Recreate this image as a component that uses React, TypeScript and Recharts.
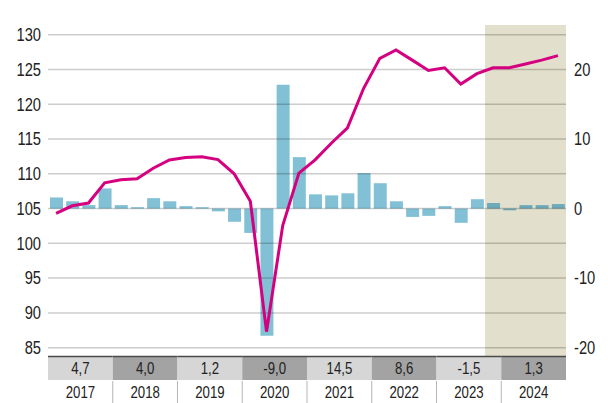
import React from 'react';
import { ComposedChart, Bar, Line, XAxis, YAxis, ReferenceArea, ReferenceLine, Cell } from 'recharts';

const quarters = [
  '2017 Q1', '2017 Q2', '2017 Q3', '2017 Q4',
  '2018 Q1', '2018 Q2', '2018 Q3', '2018 Q4',
  '2019 Q1', '2019 Q2', '2019 Q3', '2019 Q4',
  '2020 Q1', '2020 Q2', '2020 Q3', '2020 Q4',
  '2021 Q1', '2021 Q2', '2021 Q3', '2021 Q4',
  '2022 Q1', '2022 Q2', '2022 Q3', '2022 Q4',
  '2023 Q1', '2023 Q2', '2023 Q3', '2023 Q4',
  '2024 Q1', '2024 Q2', '2024 Q3', '2024 Q4',
];

// Index level (left axis)
const indexValues = [
  104.3, 105.4, 105.8, 108.7,
  109.15, 109.3, 110.8, 112.0,
  112.35, 112.45, 112.05, 110.0,
  106.05, 87.3, 102.55, 110.1,
  112.0, 114.4, 116.6, 122.3,
  126.6, 127.8, 126.35, 124.85,
  125.25, 122.9, 124.4, 125.25,
  125.25, 125.8, 126.35, 127.0,
];

// Quarter-on-quarter change in % (right axis)
const changeValues = [
  1.6, 1.05, 0.5, 2.9,
  0.5, 0.2, 1.5, 1.05,
  0.35, 0.2, -0.4, -1.9,
  -3.5, -18.3, 17.8, 7.4,
  2.05, 1.9, 2.2, 5.1,
  3.65, 1.05, -1.2, -1.05,
  0.35, -2.05, 1.35, 0.8,
  -0.25, 0.5, 0.5, 0.65,
];

const years = ['2017', '2018', '2019', '2020', '2021', '2022', '2023', '2024'];
const annualChange = [4.7, 4.0, 1.2, -9.0, 14.5, 8.6, -1.5, 1.3];

const leftTicks = [85, 90, 95, 100, 105, 110, 115, 120, 125, 130];
const rightTicks = [-20, -10, 0, 10, 20];
const forecastFrom = '2023 Q4';

const W = 608;
const H = 403;
const ML = 48;
const MR = 42;
const MT = 25;
const TABLE_H = 47;
const PLOT_W = W - ML - MR;
const BAND = PLOT_W / quarters.length;
const TABLE_TOP = H - TABLE_H;
const FONT = "'Liberation Sans', Arial, sans-serif";

const data = quarters.map((q, i) => ({ q, idx: indexValues[i], chg: changeValues[i] }));
const forecastStart = quarters.indexOf(forecastFrom);

const fmt = (v: number) => v.toFixed(1).replace('.', ',');

const NarrowText = ({ x, y, anchor, size, sx, children }: any) => (
  <g transform={`translate(${x},${y})`}>
    <text transform={`scale(${sx},1)`} textAnchor={anchor} dy="0.36em" fontFamily={FONT}
      fontSize={size} fill="#222">{children}</text>
  </g>
);

const LeftTick = (props: any) => (
  <NarrowText x={props.x} y={props.y} anchor="end" size={17.5} sx={0.84}>{props.payload.value}</NarrowText>
);
const RightTick = (props: any) => (
  <NarrowText x={props.x} y={props.y} anchor="start" size={17.5} sx={0.84}>{props.payload.value}</NarrowText>
);

const TableTick = (props: any) => {
  const { x, payload } = props;
  const i = quarters.indexOf(payload.value);
  if (i < 0 || i % 4 !== 0) return <g />;
  const yi = i / 4;
  const x0 = x - BAND / 2;
  const w = BAND * 4;
  const row1Top = TABLE_TOP;
  const row1H = 24;
  const row2Top = row1Top + row1H + 1;
  return (
    <g>
      <rect x={x0} y={row1Top} width={w} height={row1H} fill={yi % 2 === 0 ? '#d6d6d6' : '#a3a3a3'} />
      <line x1={x0} x2={x0 + w} y1={row1Top + 0.5} y2={row1Top + 0.5} stroke="#4a4a4a" strokeWidth={1.5} />
      {yi > 0 && (
        <line x1={x0} x2={x0} y1={row2Top} y2={H} stroke="#b5b5b5" strokeWidth={1} />
      )}
      <NarrowText x={x0 + w / 2} y={row1Top + row1H / 2 + 0.5} anchor="middle" size={16.5} sx={0.8}>
        {fmt(annualChange[yi])}
      </NarrowText>
      <NarrowText x={x0 + w / 2} y={row2Top + 11} anchor="middle" size={16.5} sx={0.8}>
        {years[yi]}
      </NarrowText>
    </g>
  );
};

export default function App() {
  return (
    <div style={{ position: 'absolute', left: 0, top: 0, width: W, height: H, background: '#fff' }}>
      <ComposedChart width={W} height={H} data={data} margin={{ top: MT, right: 0, left: 0, bottom: 0 }}>
        <ReferenceArea yAxisId="left" x1={forecastFrom} x2={quarters[quarters.length - 1]}
          fill="#e2dfcc" fillOpacity={1} stroke="none" />
        <XAxis dataKey="q" interval={0} axisLine={false} tickLine={false} height={TABLE_H} tick={TableTick} />
        <YAxis yAxisId="left" orientation="left" width={ML} domain={[83.8, 131.4]} ticks={leftTicks}
          axisLine={false} tickLine={false} tickSize={0} tickMargin={7} interval={0} tick={LeftTick} />
        <YAxis yAxisId="right" orientation="right" width={MR} domain={[-21.2, 26.4]} ticks={rightTicks}
          axisLine={false} tickLine={false} tickSize={0} tickMargin={8} interval={0} tick={RightTick} />
        <Bar yAxisId="right" dataKey="chg" barSize={13} fill="#82c1d5" isAnimationActive={false}>
          {data.map((d, i) => (
            <Cell key={d.q} fill={i >= forecastStart ? '#6eaab9' : '#82c1d5'} />
          ))}
        </Bar>
        {leftTicks.map((t) => (
          <ReferenceLine key={t} yAxisId="left" y={t} stroke="#000" strokeOpacity={0.2} strokeWidth={1.5} />
        ))}
        <Line yAxisId="left" type="linear" dataKey="idx" stroke="#d5007f" strokeWidth={3} dot={false}
          activeDot={false} isAnimationActive={false} />
      </ComposedChart>
    </div>
  );
}
